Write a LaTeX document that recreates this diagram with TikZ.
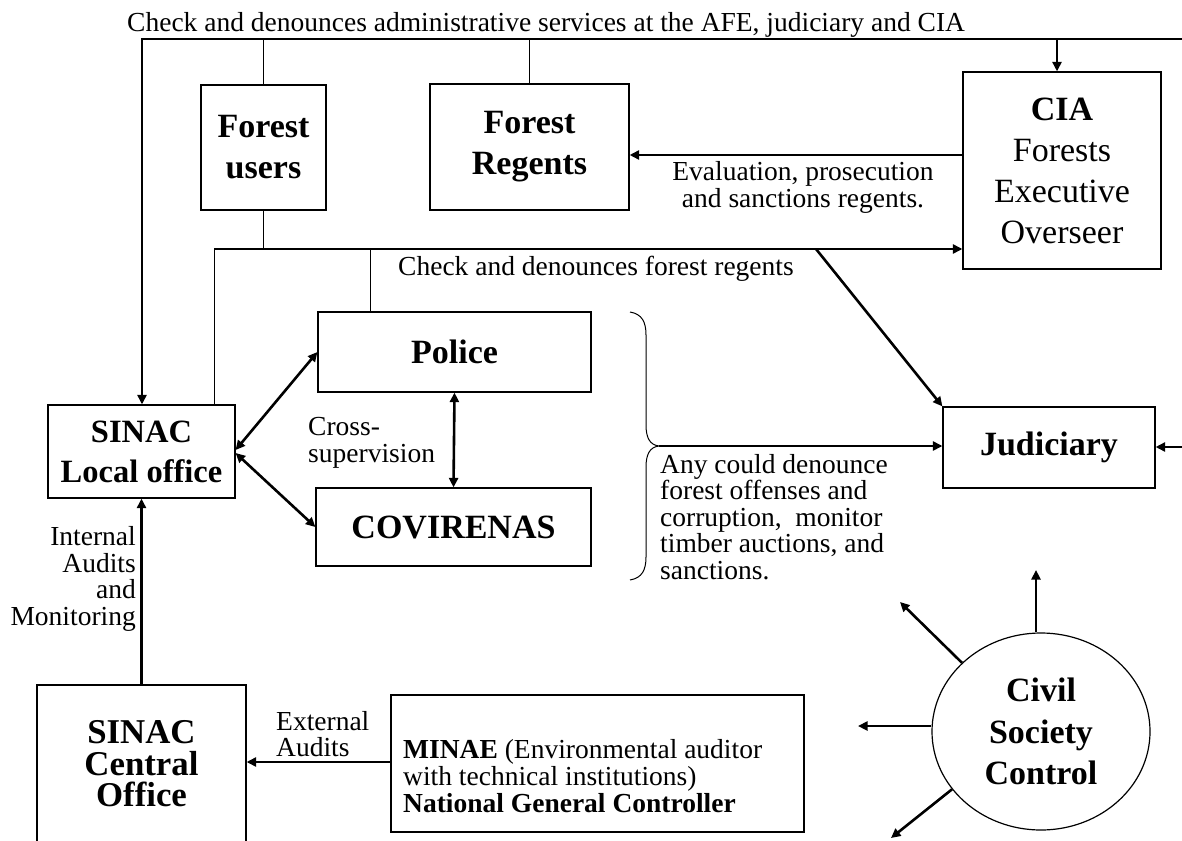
\documentclass[tikz,border=0pt]{standalone}
\usepackage{fontspec}
\setmainfont{Liberation Serif}
\usetikzlibrary{arrows.meta,shapes.geometric}
\begin{document}
\begin{tikzpicture}[x=1pt,y=-1pt,
  box/.style={draw, line width=1.2pt, inner sep=0pt, align=center, font=\bfseries\fontsize{34}{41}\selectfont},
  lbl/.style={inner sep=0pt, font=\fontsize{27.5}{26.5}\selectfont},
  thn/.style={line width=1pt},
  arr/.style={line width=2.6pt, -{Triangle[length=9.5pt,width=9pt]}},
  darr/.style={line width=2.6pt, {Triangle[length=9.5pt,width=9pt]}-{Triangle[length=9.5pt,width=9pt]}}]
\clip (0,0) rectangle (1182,840);
\fill[white] (0,0) rectangle (1182,840);
% boxes
\node[box, minimum width=125pt, minimum height=125pt] (fu) at (263.5,147.5) {Forest\\users};
\node[box, minimum width=199pt, minimum height=126pt] (fr) at (529.5,147) {Forest\\Regents};
\node[box, font=\fontsize{34}{41}\selectfont, minimum width=198pt, minimum height=197pt] (cia) at (1062,170.5) {\textbf{CIA}\\Forests\\Executive\\Overseer};
\node[box, minimum width=273pt, minimum height=80pt] (police) at (454.5,352) {Police};
\node[box, minimum width=275pt, minimum height=78pt] (cov) at (453.5,527) {COVIRENAS};
\node[box, font=\bfseries\fontsize{32.5}{40}\selectfont, minimum width=187pt, minimum height=93pt] (local) at (141.5,451.5) {SINAC\\Local office};
\node[box, minimum width=212pt, minimum height=81pt] (jud) at (1049,447.5) {Judiciary};
\node[box, font=\bfseries\fontsize{34.8}{31.5}\selectfont, minimum width=209pt, minimum height=158pt] (central) at (141.5,764) {SINAC\\Central\\Office};
\node[box, minimum width=413pt, minimum height=137pt] (minae) at (597.5,763.5) {};
\node[lbl, anchor=base west, align=left, font=\fontsize{27.5}{27}\selectfont] (minaetxt) at (403,812) {\textbf{MINAE} (Environmental auditor\\with technical institutions)\\\textbf{National General Controller}};
\node[ellipse, draw, line width=1.2pt, inner sep=0pt, minimum width=218pt, minimum height=197pt, align=center, font=\bfseries\fontsize{34}{41.5}\selectfont] (civil) at (1041,731.5) {Civil\\Society\\Control};
% labels
\node[lbl, anchor=base west] (toplbl) at (127,32) {Check and denounces administrative services at the AFE, judiciary and CIA};
\node[lbl, anchor=base, align=center] (evlbl) at (803,207) {Evaluation, prosecution\\and sanctions regents.};
\node[lbl, anchor=base west] (cdlbl) at (398,275) {Check and denounces forest regents};
\node[lbl, anchor=base west, align=left] (cross) at (308,462) {Cross-\\supervision};
\node[lbl, anchor=base east, align=right] (intl) at (136,625) {Internal\\Audits\\and\\Monitoring};
\node[lbl, anchor=base west, align=left, font=\fontsize{27.5}{26}\selectfont] (extl) at (276,756) {External\\Audits};
\node[lbl, anchor=base west, align=left] (any) at (660,579) {Any could denounce\\forest offenses and\\corruption,\ \ monitor\\timber auctions, and\\sanctions.};
% connectors
\coordinate (tl) at (142,39);
\coordinate (tr) at (1190,39);
\draw[arr] (tr) -- (tl) -- (tl |- local.north);
\coordinate (ciatop) at (1057,39);
\draw[arr] (ciatop) -- (ciatop |- cia.north);
\draw[thn] (fu.north) -- (fu.north |- tl);
\draw[thn] (fr.north) -- (fr.north |- tl);
\coordinate (midl) at (214,249);
\draw[arr] (midl) -- (cia.west |- midl);
\draw[thn] (fu.south) -- (fu.south |- midl);
\draw[thn] (midl) -- (midl |- local.north);
\coordinate (polc) at (370,249);
\draw[thn] (polc) -- (polc |- police.north);
\coordinate (diag) at (816,249);
\draw[arr] (diag) -- (jud.north west);
\coordinate (evy) at (800,155);
\draw[arr] (cia.west |- evy) -- (fr.east |- evy);
\draw[darr] ([yshift=1.5pt]local.east) -- (police.west);
\draw[darr] ([yshift=-1.5pt]local.east) -- (cov.west);
\draw[darr] (police.south) -- (cov.north);
\draw[arr] (central.north) -- (local.south);
\coordinate (ext) at (300,762);
\draw[arr] (minae.west |- ext) -- (central.east |- ext);
\coordinate (jr) at (1190,447);
\draw[arr] (jr) -- (jud.east |- jr);
% brace
\coordinate (bt) at (659,446);
\draw[thn] (630,312) .. controls (642,314) and (646,322) .. (646,335) -- (646,425) .. controls (646,438) and (650,445) .. (bt) .. controls (650,447) and (646,454) .. (646,467) -- (646,557) .. controls (646,570) and (642,578) .. (630,580);
\draw[arr] (bt) -- (jud.west |- bt);
% civil society arrows
\coordinate (cu) at (1036,570);
\draw[arr] (cu |- civil.north) -- (cu);
\coordinate (cul) at (900,602);
\draw[arr] (civil.139) -- (cul);
\coordinate (cl) at (858,726);
\draw[arr] (civil.west |- cl) -- (cl);
\coordinate (cdl) at (891,838);
\draw[arr] (civil.213) -- (cdl);
\end{tikzpicture}
\end{document}
